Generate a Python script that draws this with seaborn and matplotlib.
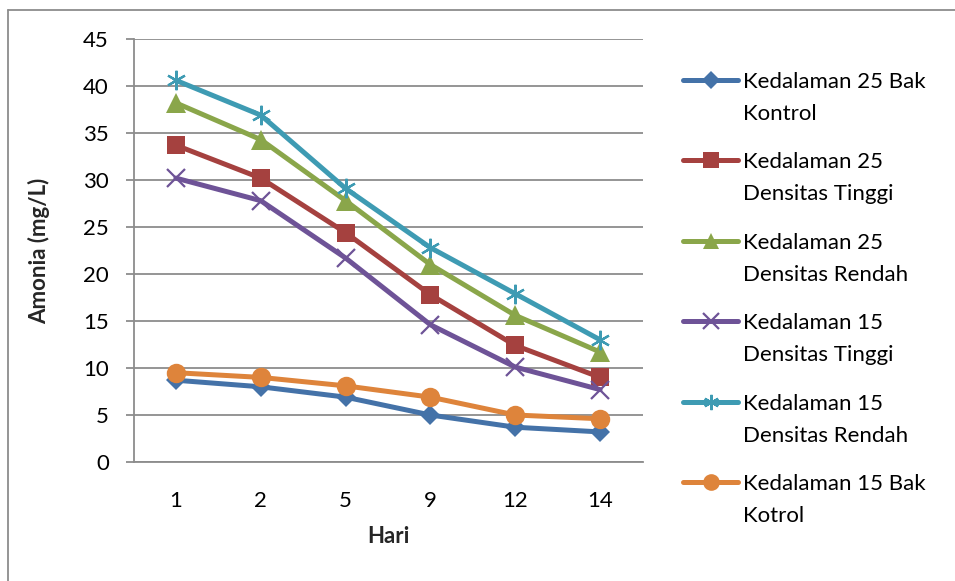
import matplotlib
matplotlib.use("Agg")
import matplotlib.pyplot as plt
import seaborn as sns
import numpy as np
import pandas as pd
from matplotlib.lines import Line2D

days = ["1", "2", "5", "9", "12", "14"]
k25_kontrol = [8.7, 8.0, 6.9, 5.0, 3.7, 3.2]
k25_tinggi = [33.7, 30.2, 24.4, 17.8, 12.4, 9.0]
k25_rendah = [38.2, 34.3, 27.8, 21.0, 15.6, 11.7]
k15_tinggi = [30.2, 27.8, 21.7, 14.6, 10.1, 7.7]
k15_rendah = [40.6, 36.9, 29.1, 22.8, 17.9, 13.0]
k15_kontrol = [9.5, 9.0, 8.1, 6.9, 5.0, 4.6]

series_names = [
    "Kedalaman 25 Bak\nKontrol",
    "Kedalaman 25\nDensitas Tinggi",
    "Kedalaman 25\nDensitas Rendah",
    "Kedalaman 15\nDensitas Tinggi",
    "Kedalaman 15\nDensitas Rendah",
    "Kedalaman 15 Bak\nKotrol",
]
series_values = [k25_kontrol, k25_tinggi, k25_rendah, k15_tinggi, k15_rendah, k15_kontrol]
colors = ["#4472A8", "#A5413F", "#8AA64A", "#6E5397", "#3E9BB3", "#DE843B"]
markers = ["D", "s", "^", "x", (6, 2, 0), "o"]
msizes = [10.5, 13.5, 14, 13, 14, 14]
medge = [0, 0, 0, 1.6, 1.6, 0]
leg_msizes = [9, 12, 11, 11, 11, 12]

rows = []
for name, vals in zip(series_names, series_values):
    for i, (d, v) in enumerate(zip(days, vals)):
        rows.append({"Series": name, "pos": i, "Hari": d, "Amonia": v})
df = pd.DataFrame(rows)

sns.set_theme(style="white")
plt.rcParams["font.family"] = ["Lato", "DejaVu Sans"]
FS = 16

W, H = 955, 581
fig = plt.figure(figsize=(W / 100, H / 100), dpi=100)
ax = fig.add_axes([133.5 / W, 1 - 462 / H, (642.5 - 133.5) / W, (462 - 39) / H])

for name, col, mk, ms, me in zip(series_names, colors, markers, msizes, medge):
    sub = df[df["Series"] == name]
    sns.lineplot(data=sub, x="pos", y="Amonia", ax=ax, color=col, linewidth=3.6,
                 marker=mk, markersize=ms, markeredgecolor=col, markerfacecolor=col,
                 markeredgewidth=me, legend=False, zorder=3)

ax.set_xlim(-0.5, 5.5)
ax.set_ylim(0, 45)
ax.set_yticks(np.arange(0, 46, 5))
ax.set_xticks(range(len(days)))
ax.set_xticklabels(days)
ax.yaxis.grid(True, color="#8C8C8C", linewidth=1.3)
ax.set_axisbelow(True)
for s in ["top", "right"]:
    ax.spines[s].set_visible(False)
for s in ["left", "bottom"]:
    ax.spines[s].set_color("#8C8C8C")
    ax.spines[s].set_linewidth(1.3)
ax.tick_params(axis="y", which="both", left=True, length=5.8, width=1.3, color="#8C8C8C",
               labelsize=FS, pad=12, labelcolor="black")
ax.tick_params(axis="x", bottom=False, labelsize=FS, pad=15, labelcolor="black")
ax.set_xlabel("Hari", fontsize=FS, fontweight="bold", labelpad=11)
ax.set_ylabel("Amonia (mg/L)", fontsize=FS, fontweight="bold", labelpad=24)

# legend, drawn with handles aligned to the first line of each label
y0, dy, dline = 80, 80.4, 32
for k, (name, col, mk, ms, me) in enumerate(zip(series_names, colors, markers, leg_msizes, medge)):
    yc = y0 + k * dy
    yf = 1 - yc / H
    fig.add_artist(Line2D([683 / W, 738 / W], [yf, yf], transform=fig.transFigure,
                          color=col, linewidth=3.6, solid_capstyle="round"))
    fig.add_artist(Line2D([710.5 / W], [yf], transform=fig.transFigure, color=col,
                          marker=mk, markersize=ms, markeredgecolor=col,
                          markerfacecolor=col, markeredgewidth=me))
    for j, line in enumerate(name.split("\n")):
        fig.text(743 / W, 1 - (yc + j * dline) / H, line, fontsize=FS, va="center_baseline",
                 ha="left", color="black")

# outer chart border (left and top visible)
fig.add_artist(Line2D([8 / W, 8 / W], [0, 1 - 10 / H], transform=fig.transFigure,
                      color="#8C8C8C", linewidth=1.3))
fig.add_artist(Line2D([8 / W, 1], [1 - 10 / H, 1 - 10 / H], transform=fig.transFigure,
                      color="#8C8C8C", linewidth=1.3))

fig.savefig("out.png", dpi=100)
